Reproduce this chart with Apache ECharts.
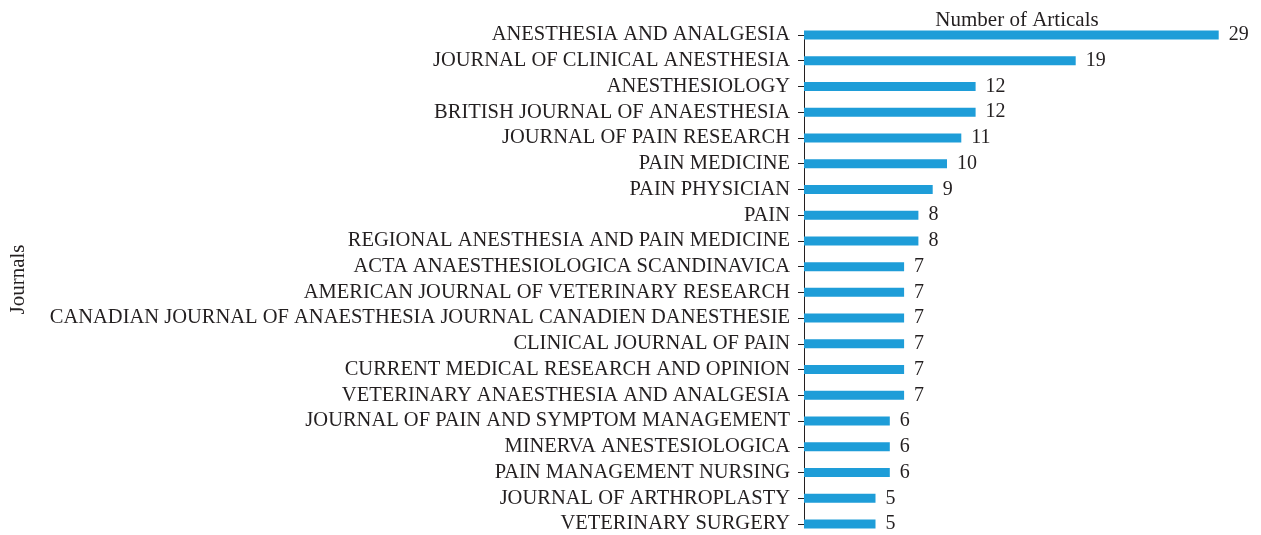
<!DOCTYPE html>
<html>
<head>
<meta charset="utf-8">
<script src="https://cdn.jsdelivr.net/npm/echarts@6/dist/echarts.min.js"></script>
<style>
  html, body { margin: 0; padding: 0; background: #fff; }
  #chart { width: 1261px; height: 535px; }
</style>
</head>
<body>
<div id="chart"></div>
<script>
// journals, top to bottom
var journals = [
    'ANESTHESIA AND ANALGESIA',
    'JOURNAL OF CLINICAL ANESTHESIA',
    'ANESTHESIOLOGY',
    'BRITISH JOURNAL OF ANAESTHESIA',
    'JOURNAL OF PAIN RESEARCH',
    'PAIN MEDICINE',
    'PAIN PHYSICIAN',
    'PAIN',
    'REGIONAL ANESTHESIA AND PAIN MEDICINE',
    'ACTA ANAESTHESIOLOGICA SCANDINAVICA',
    'AMERICAN JOURNAL OF VETERINARY RESEARCH',
    'CANADIAN JOURNAL OF ANAESTHESIA JOURNAL CANADIEN DANESTHESIE',
    'CLINICAL JOURNAL OF PAIN',
    'CURRENT MEDICAL RESEARCH AND OPINION',
    'VETERINARY ANAESTHESIA AND ANALGESIA',
    'JOURNAL OF PAIN AND SYMPTOM MANAGEMENT',
    'MINERVA ANESTESIOLOGICA',
    'PAIN MANAGEMENT NURSING',
    'JOURNAL OF ARTHROPLASTY',
    'VETERINARY SURGERY'
];
var articles = [29, 19, 12, 12, 11, 10, 9, 8, 8, 7, 7, 7, 7, 7, 7, 6, 6, 6, 5, 5];

var textColor = '#231f20';
var serif = 'Liberation Serif';

var myChart = echarts.init(document.getElementById('chart'));
var option = {
    animation: false,
    title: {
        text: 'Number of Articals',
        left: 1012,
        top: 5,
        textAlign: 'center',
        textStyle: { fontFamily: serif, fontSize: 21, fontWeight: 'normal', color: textColor }
    },
    grid: { left: 804, right: 28, top: 35, bottom: 11, containLabel: false },
    xAxis: {
        type: 'value',
        min: 0,
        max: 30,
        show: false
    },
    yAxis: {
        type: 'category',
        data: journals,
        inverse: true,
        boundaryGap: false,
        name: 'Journals',
        nameLocation: 'middle',
        nameRotate: 90,
        nameGap: 775,
        nameTextStyle: { fontFamily: serif, fontSize: 21, color: textColor },
        axisLine: { show: true, lineStyle: { color: '#231f20', width: 1 } },
        axisTick: { show: true, length: 6, interval: 0, lineStyle: { color: '#231f20' } },
        axisLabel: { interval: 0, margin: 14, fontFamily: serif, fontSize: 20.5, color: textColor },
        splitLine: { show: false }
    },
    series: [{
        name: 'Number of Articals',
        type: 'bar',
        data: articles,
        barWidth: 9,
        itemStyle: { color: '#1e9dd8' },
        label: {
            show: true,
            position: 'right',
            distance: 10,
            fontFamily: serif,
            fontSize: 20,
            color: textColor
        }
    }]
};
myChart.setOption(option);
</script>
</body>
</html>
